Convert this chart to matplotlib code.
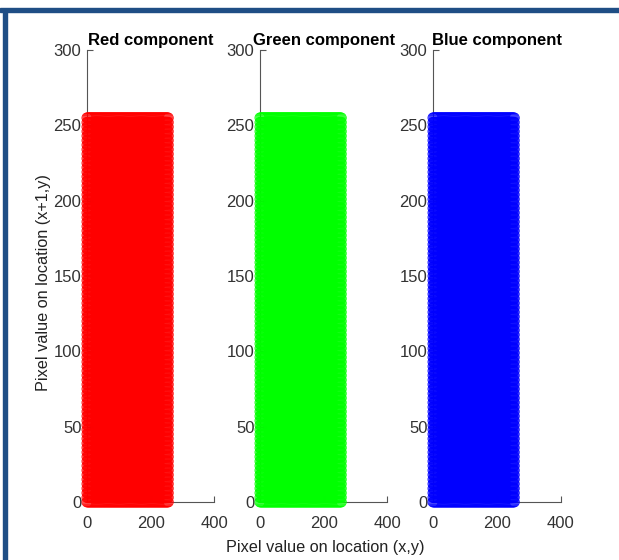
import numpy as np
import matplotlib
matplotlib.use("Agg")
import matplotlib.pyplot as plt
from matplotlib.patches import Rectangle

plt.rcParams['font.family'] = ['Liberation Sans', 'DejaVu Sans']

# adjacent-pixel pairs of the cipher image: every 8-bit level shows up
# next to every other one, so the pairs cover the whole 0..255 square
pixel_min = 0
pixel_max = 255
level_step = 3
channels = ['Red', 'Green', 'Blue']
channel_colors = ['#ff0000', '#00ff00', '#0000ff']
x_ticks = [0, 200, 400]
y_ticks = [0, 50, 100, 150, 200, 250, 300]

levels = np.arange(pixel_min, pixel_max + 1, level_step)
px, py = np.meshgrid(levels, levels)
px = px.ravel()
py = py.ravel()

fig = plt.figure(figsize=(6.19, 5.6), dpi=100)

lefts = [0.1405, 0.420, 0.6995]
axes = []
for left, name, col in zip(lefts, channels, channel_colors):
    ax = fig.add_axes([left, 0.1036, 0.206, 0.807])
    ax.scatter(px, py, s=52, facecolors='none', edgecolors=col,
               linewidths=0.6, zorder=3, clip_on=False)
    ax.set_xlim(0, 400)
    ax.set_ylim(0, 300)
    ax.set_xticks(x_ticks)
    ax.set_yticks(y_ticks)
    ax.spines['top'].set_visible(False)
    ax.spines['right'].set_visible(False)
    for side in ['left', 'bottom']:
        ax.spines[side].set_color('#555555')
        ax.spines[side].set_linewidth(0.8)
    ax.tick_params(direction='in', length=4, width=0.8, color='#555555',
                   labelsize=12, labelcolor='#333333')
    ax.tick_params(axis='x', pad=10)
    ax.tick_params(axis='y', pad=4)
    ax.set_title(name + ' component', fontsize=12, fontweight='bold', pad=4)
    axes.append(ax)

fig.text(0.525, 0.023, 'Pixel value on location (x,y)', fontsize=11.7,
         color='#222222', ha='center', va='center')
fig.text(0.071, 0.495, 'Pixel value on location (x+1,y)', fontsize=11.7,
         color='#222222', ha='center', va='center', rotation=90)

# dark blue frame along the top and left edge
frame = '#1f4e85'
fig.patches.append(Rectangle((0, 1 - 12 / 560), 1, 4 / 560,
                             transform=fig.transFigure, color=frame))
fig.patches.append(Rectangle((3 / 619, 0), 4 / 619, 1 - 12 / 560,
                             transform=fig.transFigure, color=frame))

fig.savefig('out.png', dpi=100)
